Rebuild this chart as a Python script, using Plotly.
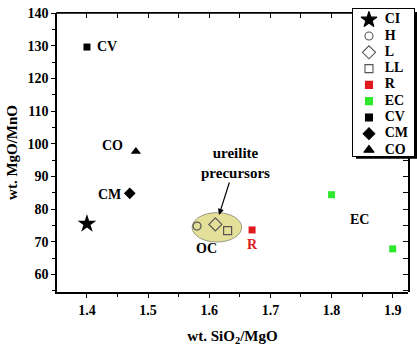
import plotly.graph_objects as go

# ---- data ----
series_names = ["CI", "H", "L", "LL", "R", "EC", "CV", "CM", "CO"]
ci_x, ci_y = [1.40], [75.5]
h_x, h_y = [1.58], [74.8]
l_x, l_y = [1.61], [75.3]
ll_x, ll_y = [1.63], [73.4]
r_x, r_y = [1.67], [73.6]
ec_x, ec_y = [1.80, 1.90], [84.4, 67.8]
cv_x, cv_y = [1.40], [129.6]
cm_x, cm_y = [1.47], [84.8]
co_x, co_y = [1.48], [97.6]

x_ticks = [1.4, 1.5, 1.6, 1.7, 1.8, 1.9]
y_ticks = [60, 70, 80, 90, 100, 110, 120, 130, 140]
top_ticks = [1.4, 1.45, 1.5, 1.55, 1.6, 1.65, 1.7, 1.75, 1.8]

FONT = "Liberation Serif, Times New Roman, serif"
BLACK = "#000000"
RED = "#e0191f"
GREEN = "#2ee82e"
GREY = "#555555"

# style per series (order = series_names)
symbols = ["star", "circle-open", "diamond-open", "square-open", "square",
           "square", "square", "diamond", "triangle-up"]
colors = [BLACK, GREY, GREY, GREY, RED, GREEN, BLACK, BLACK, BLACK]
sizes = [14, 8, 10, 8, 7, 7, 7, 9, 9]
data_x = [ci_x, h_x, l_x, ll_x, r_x, ec_x, cv_x, cm_x, co_x]
data_y = [ci_y, h_y, l_y, ll_y, r_y, ec_y, cv_y, cm_y, co_y]

# ---- layout geometry (pixels) ----
W, H = 417, 351
ML, MR, MT, MB = 57, 2, 3, 59
PW, PH = W - ML - MR, H - MT - MB
plot_right, plot_top, plot_bottom = 408, 7, 292
leg_l, leg_r, leg_t, leg_b = 353, 414, 3, 153

def px(xp):
    return (xp - ML) / PW

def py(yp):
    return (plot_bottom - yp) / PH

xr = [1.351, 1.925]
yr = [54.6, 140.05]
y_per_px = (yr[1] - yr[0]) / (plot_bottom - plot_top)

fig = go.Figure()

for name, xs, ys, sym, col, sz in zip(series_names, data_x, data_y, symbols, colors, sizes):
    open_sym = sym.endswith("-open")
    fig.add_trace(go.Scatter(
        x=xs, y=ys, mode="markers", name=name, showlegend=False,
        marker=dict(symbol=sym, size=sz, color=col, opacity=1,
                    line=dict(color=col, width=1.2 if open_sym else 0)),
    ))

# helper axes (top ticks / right axis below the legend): invisible copies of points
fig.add_trace(go.Scatter(x=cv_x, y=cv_y, xaxis="x2", yaxis="y", mode="markers",
                         marker=dict(opacity=0, size=1),
                         showlegend=False, hoverinfo="skip"))
fig.add_trace(go.Scatter(x=r_x, y=r_y, xaxis="x", yaxis="y2", mode="markers",
                         marker=dict(opacity=0, size=1),
                         showlegend=False, hoverinfo="skip"))

# legend drawn in its own small subplot
n = len(series_names)
leg_idx = list(range(n))
fig.add_trace(go.Scatter(
    x=[0.262] * n, y=leg_idx, mode="markers", xaxis="x3", yaxis="y3",
    showlegend=False, hoverinfo="skip",
    marker=dict(symbol=symbols, size=[min(s, 12) for s in sizes], color=colors,
                opacity=1, line=dict(color=colors, width=1.1)),
))
fig.add_trace(go.Scatter(
    x=[0.52] * n, y=leg_idx, mode="text", xaxis="x3", yaxis="y3",
    text=series_names, textposition="middle right",
    textfont=dict(family=FONT, size=14, color=BLACK, weight="bold"),
    showlegend=False, hoverinfo="skip",
))

spacing = (147 - 14) / (n - 1)
leg_yr = [n - 1 + (leg_b - 147) / spacing, -(14 - leg_t) / spacing]

tickfont = dict(family=FONT, size=14, color=BLACK, weight="bold")
noax = dict(showgrid=False, zeroline=False)

fig.update_layout(
    width=W, height=H,
    margin=dict(l=ML, r=MR, t=MT, b=MB),
    paper_bgcolor="white", plot_bgcolor="rgba(0,0,0,0)",
    font=dict(family=FONT, color=BLACK),
    showlegend=False,
    xaxis=dict(
        domain=[0, px(plot_right)], anchor="y", type="linear",
        range=xr, tickvals=x_ticks, ticktext=[f"{v:.1f}" for v in x_ticks],
        ticks="outside", ticklen=4, tickwidth=1.2, tickcolor=BLACK,
        minor=dict(dtick=0.05, tick0=1.4, ticks="outside", ticklen=3, tickcolor=BLACK),
        showline=True, linecolor=BLACK, linewidth=1.6, tickfont=tickfont,
        title=dict(text="wt. SiO<sub>2</sub>/MgO", standoff=14,
                   font=dict(family=FONT, size=15, color=BLACK, weight="bold")),
        **noax,
    ),
    yaxis=dict(
        domain=[0, py(plot_top)], anchor="x", type="linear",
        range=yr, tickvals=y_ticks, ticktext=[str(v) for v in y_ticks],
        ticks="outside", ticklen=4, tickwidth=1.2, tickcolor=BLACK,
        minor=dict(dtick=5, tick0=0, ticks="outside", ticklen=3, tickcolor=BLACK),
        showline=True, linecolor=BLACK, linewidth=1.6, tickfont=tickfont,
        title=dict(text="wt. MgO/MnO", standoff=6,
                   font=dict(family=FONT, size=15, color=BLACK, weight="bold")),
        **noax,
    ),
    xaxis2=dict(
        overlaying="x", side="top", type="linear", range=xr,
        tickvals=top_ticks, ticks="inside", ticklen=5, tickwidth=1.2,
        tickcolor=BLACK, showticklabels=False, showline=False, **noax,
    ),
    yaxis2=dict(
        domain=[0, py(leg_b)], anchor="x", side="right", type="linear",
        range=[yr[0], yr[0] + (plot_bottom - leg_b) * y_per_px], tick0=0, dtick=5,
        ticks="inside", ticklen=5, tickwidth=1.2, tickcolor=BLACK, showticklabels=False,
        showline=True, linecolor=BLACK, linewidth=1.6, **noax,
    ),
    xaxis3=dict(
        domain=[px(leg_l), px(leg_r)], anchor="y3", range=[0, 1],
        showticklabels=False, ticks="", showline=True, mirror=True,
        linecolor=BLACK, linewidth=1, fixedrange=True, **noax,
    ),
    yaxis3=dict(
        domain=[py(leg_b), py(leg_t)], anchor="x3", range=leg_yr,
        showticklabels=False, ticks="", showline=True, mirror=True,
        linecolor=BLACK, linewidth=1, fixedrange=True, **noax,
    ),
)

# top frame line, stopping at the legend box
fig.add_shape(type="line", xref="paper", yref="paper",
              x0=px(ML) - 0.002, x1=px(leg_l), y0=py(plot_top), y1=py(plot_top),
              line=dict(color=BLACK, width=1.6), layer="above")

# legend drop shadow + white backing
fig.add_shape(type="rect", xref="paper", yref="paper",
              x0=px(leg_l + 3), x1=px(leg_r + 3), y0=py(leg_b + 3), y1=py(leg_t + 3),
              fillcolor=BLACK, line=dict(width=0), layer="below")
fig.add_shape(type="rect", xref="paper", yref="paper",
              x0=px(leg_l), x1=px(leg_r), y0=py(leg_b), y1=py(leg_t),
              fillcolor="white", line=dict(width=0), layer="below")

# ureilite precursor ellipse (OC field)
fig.add_shape(type="circle", xref="x", yref="y",
              x0=1.572, x1=1.653, y0=69.9, y1=78.9,
              fillcolor="#e4e09a", line=dict(color="#9a9a80", width=1), layer="below")

labels = [
    ("CV", 1.433, 129.8, BLACK),
    ("CO", 1.441, 99.4, BLACK),
    ("CM", 1.437, 84.6, BLACK),
    ("OC", 1.595, 67.9, BLACK),
    ("R", 1.670, 69.0, RED),
    ("EC", 1.846, 76.7, BLACK),
]
for t, x, y, c in labels:
    fig.add_annotation(x=x, y=y, text=t, showarrow=False,
                       font=dict(family=FONT, size=14, color=c, weight="bold"))

fig.add_annotation(x=1.616, y=78.2, ax=1.643, ay=94.1, axref="x", ayref="y",
                   xref="x", yref="y", text="ureilite<br>precursors", showarrow=True,
                   arrowhead=2, arrowsize=1, arrowwidth=1.2, arrowcolor=BLACK,
                   font=dict(family=FONT, size=15, color=BLACK, weight="bold"))

fig.write_html("out.html")
